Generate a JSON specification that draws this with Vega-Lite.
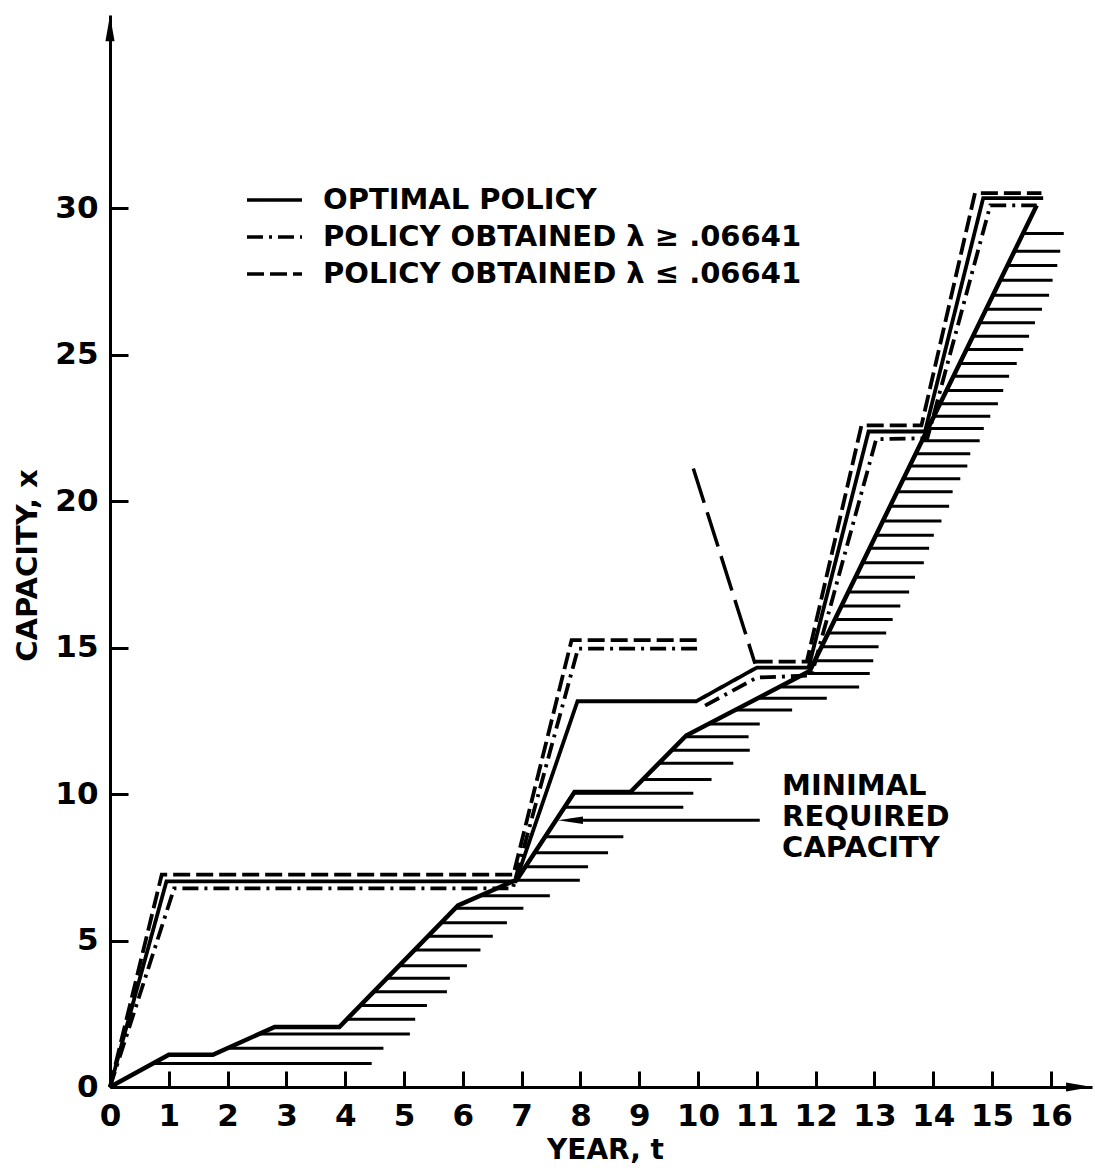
{
  "$schema": "https://vega.github.io/schema/vega-lite/v6.json",
  "autosize": {"type": "none"},
  "padding": {"left": 110, "top": 15, "right": 3, "bottom": 84},
  "width": 982,
  "height": 1072,
  "background": "white",
  "config": {"view": {"stroke": null}},
  "datasets": {
    "hatch": [
      {"t":0.73,"t2":4.45,"cap":0.8},{"t":1.99,"t2":4.65,"cap":1.32},{"t":2.53,"t2":5.1,"cap":1.81},{"t":4.03,"t2":5.19,"cap":2.31},
      {"t":4.26,"t2":5.39,"cap":2.78},{"t":4.48,"t2":5.73,"cap":3.25},{"t":4.71,"t2":5.78,"cap":3.71},{"t":4.92,"t2":6.07,"cap":4.14},
      {"t":5.18,"t2":6.3,"cap":4.68},{"t":5.41,"t2":6.51,"cap":5.15},{"t":5.63,"t2":6.75,"cap":5.61},{"t":5.87,"t2":7.03,"cap":6.1},
      {"t":6.29,"t2":7.48,"cap":6.53},{"t":6.88,"t2":7.99,"cap":7.06},{"t":7.06,"t2":8.13,"cap":7.52},{"t":7.21,"t2":8.47,"cap":8.0},
      {"t":7.39,"t2":8.73,"cap":8.54},{"t":7.72,"t2":9.75,"cap":9.55},{"t":7.9,"t2":9.92,"cap":10.03},{"t":9.05,"t2":10.23,"cap":10.5},
      {"t":9.33,"t2":10.6,"cap":11.05},{"t":9.55,"t2":10.88,"cap":11.5},{"t":9.78,"t2":10.86,"cap":11.96},{"t":10.18,"t2":11.05,"cap":12.39},
      {"t":10.65,"t2":11.6,"cap":12.87},{"t":11.04,"t2":12.19,"cap":13.27},{"t":11.42,"t2":12.74,"cap":13.66},{"t":11.87,"t2":12.92,"cap":14.12},
      {"t":11.99,"t2":12.98,"cap":14.55},{"t":12.11,"t2":13.07,"cap":15.03},{"t":12.23,"t2":13.2,"cap":15.5},{"t":12.34,"t2":13.31,"cap":15.96},
      {"t":12.45,"t2":13.44,"cap":16.42},{"t":12.57,"t2":13.59,"cap":16.9},{"t":12.69,"t2":13.69,"cap":17.4},{"t":12.81,"t2":13.84,"cap":17.9},
      {"t":12.93,"t2":13.93,"cap":18.39},{"t":13.04,"t2":14.01,"cap":18.84},{"t":13.15,"t2":14.14,"cap":19.32},{"t":13.27,"t2":14.27,"cap":19.83},
      {"t":13.39,"t2":14.33,"cap":20.32},{"t":13.5,"t2":14.46,"cap":20.77},{"t":13.61,"t2":14.58,"cap":21.2},{"t":13.71,"t2":14.63,"cap":21.62},
      {"t":13.81,"t2":14.79,"cap":22.06},{"t":13.92,"t2":14.86,"cap":22.48},{"t":14.02,"t2":14.97,"cap":22.9},{"t":14.12,"t2":15.1,"cap":23.33},
      {"t":14.23,"t2":15.19,"cap":23.78},{"t":14.35,"t2":15.29,"cap":24.27},{"t":14.45,"t2":15.42,"cap":24.7},{"t":14.57,"t2":15.53,"cap":25.18},
      {"t":14.68,"t2":15.63,"cap":25.63},{"t":14.79,"t2":15.73,"cap":26.09},{"t":14.9,"t2":15.85,"cap":26.55},{"t":15.02,"t2":15.97,"cap":27.03},
      {"t":15.14,"t2":16.03,"cap":27.54},{"t":15.26,"t2":16.11,"cap":28.05},{"t":15.38,"t2":16.16,"cap":28.53},{"t":15.53,"t2":16.22,"cap":29.14}
    ],
    "minimal": [
      {"i":0,"t":0,"cap":0},{"i":1,"t":1.0,"cap":1.1},{"i":2,"t":1.75,"cap":1.1},{"i":3,"t":2.8,"cap":2.05},
      {"i":4,"t":3.9,"cap":2.05},{"i":5,"t":5.92,"cap":6.2},{"i":6,"t":6.92,"cap":7.08},{"i":7,"t":7.9,"cap":10.07},
      {"i":8,"t":8.85,"cap":10.07},{"i":9,"t":9.8,"cap":12.0},{"i":10,"t":11.9,"cap":14.2},{"i":11,"t":15.76,"cap":30.1}
    ],
    "policies": [
      {"series":"OPTIMAL POLICY","piece":"o1","i":0,"t":0,"cap":0},
      {"series":"OPTIMAL POLICY","piece":"o1","i":1,"t":0.96,"cap":7.02},
      {"series":"OPTIMAL POLICY","piece":"o1","i":2,"t":6.9,"cap":7.02},
      {"series":"OPTIMAL POLICY","piece":"o1","i":3,"t":7.95,"cap":13.17},
      {"series":"OPTIMAL POLICY","piece":"o1","i":4,"t":9.97,"cap":13.17},
      {"series":"OPTIMAL POLICY","piece":"o1","i":5,"t":11.0,"cap":14.32},
      {"series":"OPTIMAL POLICY","piece":"o1","i":6,"t":11.88,"cap":14.32},
      {"series":"OPTIMAL POLICY","piece":"o1","i":7,"t":12.9,"cap":22.38},
      {"series":"OPTIMAL POLICY","piece":"o1","i":8,"t":13.86,"cap":22.38},
      {"series":"OPTIMAL POLICY","piece":"o1","i":9,"t":14.85,"cap":30.35},
      {"series":"OPTIMAL POLICY","piece":"o1","i":10,"t":15.87,"cap":30.35},
      {"series":"POLICY OBTAINED λ ≥ .06641","piece":"d1","i":0,"t":0,"cap":0},
      {"series":"POLICY OBTAINED λ ≥ .06641","piece":"d1","i":1,"t":1.09,"cap":6.78},
      {"series":"POLICY OBTAINED λ ≥ .06641","piece":"d1","i":2,"t":6.85,"cap":6.78},
      {"series":"POLICY OBTAINED λ ≥ .06641","piece":"d1","i":3,"t":7.96,"cap":14.97},
      {"series":"POLICY OBTAINED λ ≥ .06641","piece":"d1","i":4,"t":10.0,"cap":14.97},
      {"series":"POLICY OBTAINED λ ≥ .06641","piece":"d2","i":5,"t":10.12,"cap":13.02},
      {"series":"POLICY OBTAINED λ ≥ .06641","piece":"d2","i":6,"t":11.0,"cap":13.98},
      {"series":"POLICY OBTAINED λ ≥ .06641","piece":"d2","i":7,"t":11.93,"cap":14.05},
      {"series":"POLICY OBTAINED λ ≥ .06641","piece":"d2","i":8,"t":13.03,"cap":22.12},
      {"series":"POLICY OBTAINED λ ≥ .06641","piece":"d2","i":9,"t":13.9,"cap":22.15},
      {"series":"POLICY OBTAINED λ ≥ .06641","piece":"d2","i":10,"t":14.97,"cap":30.1},
      {"series":"POLICY OBTAINED λ ≥ .06641","piece":"d2","i":11,"t":15.76,"cap":30.1},
      {"series":"POLICY OBTAINED λ ≤ .06641","piece":"e1","i":0,"t":0,"cap":0},
      {"series":"POLICY OBTAINED λ ≤ .06641","piece":"e1","i":1,"t":0.88,"cap":7.25},
      {"series":"POLICY OBTAINED λ ≤ .06641","piece":"e1","i":2,"t":6.86,"cap":7.25},
      {"series":"POLICY OBTAINED λ ≤ .06641","piece":"e1","i":3,"t":7.85,"cap":15.26},
      {"series":"POLICY OBTAINED λ ≤ .06641","piece":"e1","i":4,"t":10.06,"cap":15.26},
      {"series":"POLICY OBTAINED λ ≤ .06641","piece":"e2","i":5,"t":10.98,"cap":14.52},
      {"series":"POLICY OBTAINED λ ≤ .06641","piece":"e2","i":6,"t":11.85,"cap":14.52},
      {"series":"POLICY OBTAINED λ ≤ .06641","piece":"e2","i":7,"t":12.78,"cap":22.59},
      {"series":"POLICY OBTAINED λ ≤ .06641","piece":"e2","i":8,"t":13.8,"cap":22.59},
      {"series":"POLICY OBTAINED λ ≤ .06641","piece":"e2","i":9,"t":14.71,"cap":30.52},
      {"series":"POLICY OBTAINED λ ≤ .06641","piece":"e2","i":10,"t":15.84,"cap":30.52}
    ],
    "pointer": [
      {"i":0,"t":9.92,"cap":21.12},{"i":1,"t":10.97,"cap":14.45}
    ],
    "arrow": [
      {"t":7.83,"t2":11.05,"cap":9.11}
    ],
    "label": [
      {"t":11.43,"cap":10.27,"text":"MINIMAL|REQUIRED|CAPACITY"}
    ],
    "yarrow": [{"t":0,"cap":36.15}],
    "xarrow": [{"t":16.48,"cap":0}]
  },
  "encoding": {
    "x": {
      "field": "t", "type": "quantitative",
      "scale": {"domain": [0, 16.7], "nice": false, "zero": false},
      "axis": {
        "values": [0,1,2,3,4,5,6,7,8,9,10,11,12,13,14,15,16],
        "format": "d", "grid": false,
        "domainColor": "black", "domainWidth": 3,
        "tickColor": "black", "tickWidth": 3, "tickSize": -16,
        "labelFont": "DejaVu Sans", "labelFontWeight": "bold", "labelFontSize": 31, "labelColor": "black",
        "labelPadding": 30, "labelFlush": false, "labelOverlap": false,
        "title": "YEAR, t", "titleFont": "DejaVu Sans", "titleFontWeight": "bold", "titleFontSize": 28, "titleColor": "black",
        "titleX": 495, "titleY": 63, "titleAlign": "center", "titleBaseline": "middle"
      }
    },
    "y": {
      "field": "cap", "type": "quantitative",
      "scale": {"domain": [0, 36.6], "nice": false, "zero": false},
      "axis": {
        "values": [0,5,10,15,20,25,30],
        "format": "d", "grid": false,
        "domainColor": "black", "domainWidth": 3,
        "tickColor": "black", "tickWidth": 3, "tickSize": -18,
        "labelFont": "DejaVu Sans", "labelFontWeight": "bold", "labelFontSize": 31, "labelColor": "black",
        "labelPadding": 30, "labelFlush": false, "labelOverlap": false,
        "title": "CAPACITY, x", "titleFont": "DejaVu Sans", "titleFontWeight": "bold", "titleFontSize": 29, "titleColor": "black",
        "titleX": -83, "titleY": 550, "titleAlign": "center", "titleBaseline": "middle", "titleAngle": -90
      }
    }
  },
  "layer": [
    {
      "data": {"name": "hatch"},
      "mark": {"type": "rule", "stroke": "black", "strokeWidth": 3},
      "encoding": {"x2": {"field": "t2"}}
    },
    {
      "data": {"name": "minimal"},
      "mark": {"type": "line", "stroke": "black", "strokeWidth": 4.5},
      "encoding": {"order": {"field": "i", "type": "quantitative"}}
    },
    {
      "data": {"name": "policies"},
      "mark": {"type": "line", "stroke": "black", "strokeWidth": 3.8},
      "encoding": {
        "detail": {"field": "piece", "type": "nominal"},
        "order": {"field": "i", "type": "quantitative"},
        "strokeDash": {
          "field": "series", "type": "nominal",
          "scale": {
            "domain": ["OPTIMAL POLICY", "POLICY OBTAINED λ ≥ .06641", "POLICY OBTAINED λ ≤ .06641"],
            "range": [[1, 0], [16, 6, 3, 6], [17, 6]]
          },
          "legend": {
            "orient": "none", "legendX": 135, "legendY": 170, "title": null, "padding": 0,
            "symbolType": "stroke", "symbolSize": 3025, "symbolStrokeWidth": 3.5, "symbolStrokeColor": "black",
            "labelFont": "DejaVu Sans", "labelFontWeight": "bold", "labelFontSize": 29, "labelColor": "black",
            "labelOffset": 19, "rowPadding": 7, "clipHeight": 30, "labelLimit": 900
          }
        }
      }
    },
    {
      "data": {"name": "pointer"},
      "mark": {"type": "line", "stroke": "black", "strokeWidth": 3.5, "strokeDash": [36, 10]},
      "encoding": {"order": {"field": "i", "type": "quantitative"}}
    },
    {
      "data": {"name": "arrow"},
      "mark": {"type": "rule", "stroke": "black", "strokeWidth": 3},
      "encoding": {"x2": {"field": "t2"}}
    },
    {
      "data": {"name": "arrow"},
      "mark": {"type": "point", "shape": "M-1,0L1,-0.3L1,0.3Z", "size": 625, "filled": true, "fill": "black", "strokeWidth": 0, "opacity": 1}
    },
    {
      "data": {"name": "label"},
      "mark": {"type": "text", "align": "left", "baseline": "middle", "lineBreak": "|", "lineHeight": 31,
               "font": "DejaVu Sans", "fontWeight": "bold", "fontSize": 29, "fill": "black"},
      "encoding": {"text": {"field": "text"}}
    },
    {
      "data": {"name": "yarrow"},
      "mark": {"type": "point", "shape": "M0,-1L0.35,1L-0.35,1Z", "size": 676, "filled": true, "fill": "black", "strokeWidth": 0, "opacity": 1}
    },
    {
      "data": {"name": "xarrow"},
      "mark": {"type": "point", "shape": "M1,0L-1,-0.35L-1,0.35Z", "size": 676, "filled": true, "fill": "black", "strokeWidth": 0, "opacity": 1}
    }
  ]
}
